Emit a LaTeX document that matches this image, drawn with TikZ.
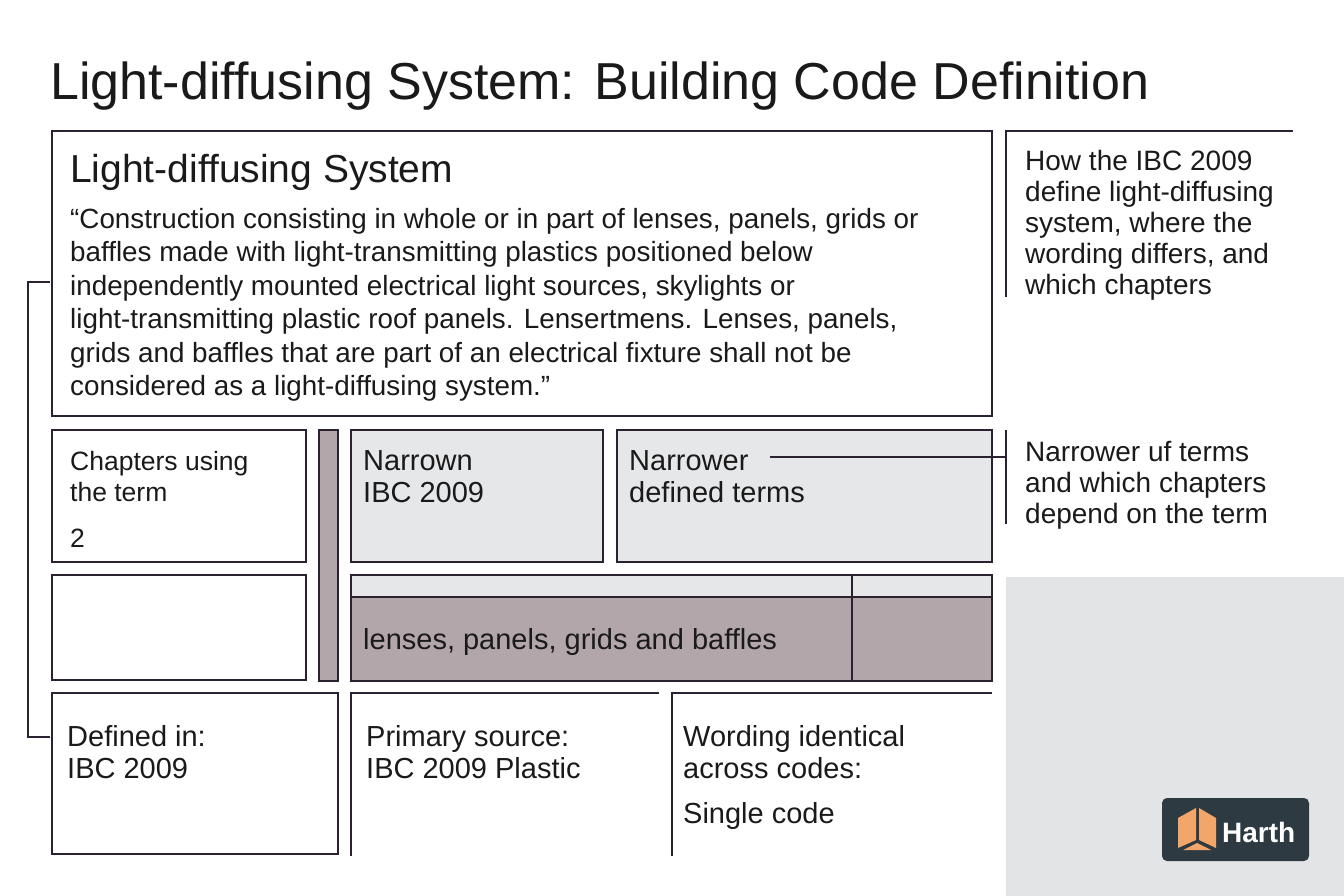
\documentclass[tikz,border=0pt]{standalone}
\usepackage{fontspec}
\setmainfont{Liberation Sans}
\begin{document}
\begin{tikzpicture}[x=1pt,y=-1pt,
  ln/.style={draw=linec,line width=1.6pt},
  tx/.style={anchor=base west,inner sep=0pt,align=left,text=txtc},
  tn/.style={tx,anchor=north west},
  fs/.style={font=\fontsize{26.5}{31}\selectfont},
  nf/.style={font=\fontsize{29}{32}\selectfont}]
\definecolor{linec}{HTML}{2A2230}
\definecolor{txtc}{HTML}{1A1A1A}
\definecolor{mauve}{HTML}{B3A6AB}
\definecolor{lgray}{HTML}{E6E7E9}
\definecolor{panel}{HTML}{E3E4E6}
\definecolor{logo}{HTML}{2D3A42}
\definecolor{orng}{HTML}{F2A66A}
\useasboundingbox (0,0) rectangle (1344,896);
\fill[white] (0,0) rectangle (1344,896);
\fill[panel] (1006,577) rectangle (1344,896);
\node[tx,font=\fontsize{52}{56}\selectfont] (title) at (50,100) {Light-diffusing System: Building Code Definition};
% main box
\draw[ln] (52,131) rectangle (992,416);
\node[tx,font=\fontsize{39}{40}\selectfont] (mh) at (70,183) {Light-diffusing System};
\node[tn,font=\fontsize{27.8}{33.5}\selectfont] (mb) at (70,208) {“Construction consisting in whole or in part of lenses, panels, grids or\\baffles made with light-transmitting plastics positioned below\\independently mounted electrical light sources, skylights or\\light-transmitting plastic roof panels. Lensertmens. Lenses, panels,\\grids and baffles that are part of an electrical fixture shall not be\\considered as a light-diffusing system.”};
% right notes
\draw[ln,line width=1.3pt] (1293,131) -- (1006,131) -- (1006,297);
\node[tn,font=\fontsize{28}{31}\selectfont] (n1) at (1025,150) {How the IBC 2009\\define light-diffusing\\system, where the\\wording differs, and\\which chapters};
\draw[ln,line width=1.3pt] (1006,430) -- (1006,524);
\node[tn,font=\fontsize{28}{31}\selectfont] (n2) at (1025,441) {Narrower uf terms\\and which chapters\\depend on the term};
% left bracket
\draw[ln,line width=1.3pt] (50,282) -- (28,282) -- (28,737) -- (50,737);
% row 2
\draw[ln] (52,430) rectangle (306,562);
\node[tn,fs] (c1) at (70,451) {Chapters using\\the term};
\node[tx,fs] (c2) at (70,547) {2};
\draw[ln,fill=mauve] (319,430) rectangle (338,681);
\draw[ln,fill=lgray] (351,430) rectangle (603,562);
\node[tn,nf] (nr) at (363,450) {Narrown\\IBC 2009};
\draw[ln,fill=lgray] (617,430) rectangle (992,562);
\node[tn,nf] (nd) at (629,450) {Narrower\\defined terms};
\coordinate (e) at (1006,457);
\draw[ln,line width=1.3pt] (770,457) -- (e);
% row 3
\draw[ln] (52,575) rectangle (306,680);
\fill[lgray] (351,575) rectangle (992,597);
\fill[mauve] (351,597) rectangle (992,681);
\draw[ln] (351,575) rectangle (992,681);
\draw[ln] (351,597) -- (992,597);
\draw[ln] (852,575) -- (852,681);
\node[tx,nf] (lp) at (363,649) {lenses, panels, grids and baffles};
% row 4
\draw[ln] (52,693) rectangle (338,854);
\node[tn,nf] (d1) at (67,725) {Defined in:\\IBC 2009};
\draw[ln] (659,693) -- (351,693) -- (351,856);
\node[tn,nf] (p1) at (366,725) {Primary source:\\IBC 2009 Plastic};
\draw[ln] (992,693) -- (672,693) -- (672,856);
\node[tn,nf] (w1) at (683,725) {Wording identical\\across codes:};
\node[tx,nf] (w2) at (683,823) {Single code};
% logo
\fill[logo,rounded corners=5pt] (1162,798) rectangle (1309,861);
\fill[orng] (1178,818) -- (1196,808) -- (1196,840) -- (1178,848) -- cycle;
\fill[orng] (1199,808) -- (1216,818) -- (1216,848) -- (1199,840) -- cycle;
\fill[orng] (1183,850) -- (1197,843) -- (1211,850) -- cycle;
\node[tx,text=white,font=\bfseries\fontsize{28}{30}\selectfont] (lg) at (1222,842) {Harth};
\end{tikzpicture}
\end{document}
